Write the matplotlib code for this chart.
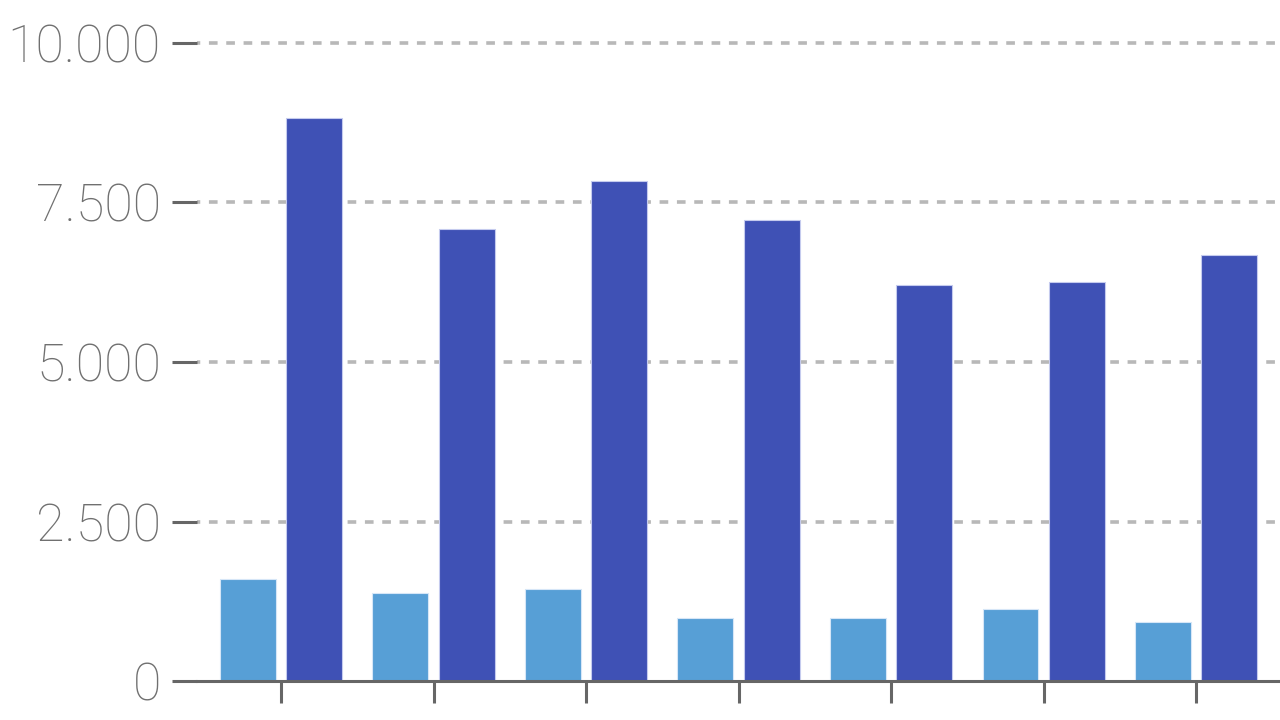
import matplotlib
matplotlib.use("Agg")
import matplotlib.pyplot as plt
from matplotlib.ticker import FuncFormatter
import numpy as np

categories = ["1", "2", "3", "4", "5", "6", "7"]
series_light = [1600, 1380, 1440, 990, 990, 1130, 930]
series_dark = [8820, 7090, 7840, 7230, 6210, 6260, 6680]
y_ticks = [0, 2500, 5000, 7500, 10000]

plt.rcParams['font.family'] = ['Roboto', 'DejaVu Sans']

fig = plt.figure(figsize=(12.8, 7.2), dpi=100)
ax = fig.add_axes([197/1280, 39/720, 1 - 197/1280, (681-43)/720])

x = np.arange(len(categories))
w = 0.367
off = 0.217
ax.bar(x - off, series_light, width=w, color='#579fd6', edgecolor='#d6e6f7', linewidth=0.8, zorder=3)
ax.bar(x + off, series_dark, width=w, color='#3f51b5', edgecolor='#c5cbee', linewidth=0.8, zorder=3)

ax.set_xlim(-0.551, 6.55)
ax.set_ylim(0, 10000)
ax.set_xticks(x)
ax.set_xticklabels([])
ax.set_yticks(y_ticks)
ax.yaxis.set_major_formatter(FuncFormatter(lambda v, p: f"{int(v):,}".replace(",", ".")))

for s in ['top', 'right', 'left']:
    ax.spines[s].set_visible(False)
ax.spines['bottom'].set_color('#666666')
ax.spines['bottom'].set_linewidth(2.2)
ax.spines['bottom'].set_zorder(4)

ax.tick_params(axis='x', direction='out', length=16, width=2.2, color='#666666')
ax.tick_params(axis='y', direction='out', length=18, width=2.2, color='#666666',
               labelsize=37.5, labelcolor='#707070', pad=8)
for lab in ax.get_yticklabels():
    lab.set_fontweight('light')

ax.yaxis.grid(True, color='#b8b8b8', linewidth=2.6, linestyle=(1.5, (2.4, 2.4)), zorder=0)
ax.set_axisbelow(True)
glines = ax.get_ygridlines()
for gl in glines:
    gl.set_clip_on(False)
glines[0].set_visible(False)

fig.savefig("out.png", dpi=100)
